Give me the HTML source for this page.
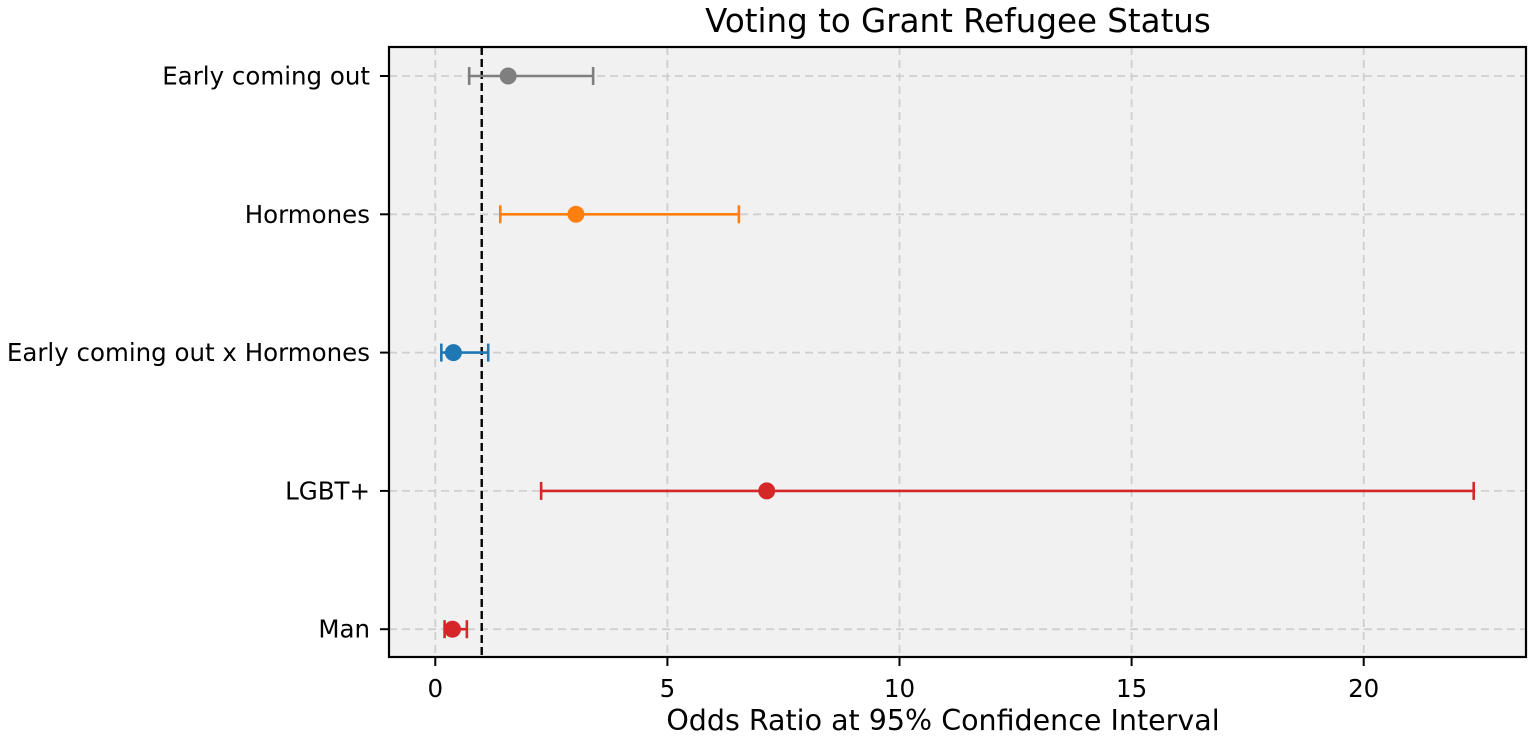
<!DOCTYPE html>
<html><head><meta charset="utf-8"><style>
html,body{margin:0;padding:0;background:#fff;}
svg{display:block;font-family:"DejaVu Sans","Liberation Sans",sans-serif;}
</style></head><body>
<svg id="chart" width="1536" height="740" viewBox="0 0 1536 740" xmlns="http://www.w3.org/2000/svg"></svg>
<script>
const categories = ["Early coming out","Hormones","Early coming out x Hormones","LGBT+","Man"];
const estimates = [1.57, 3.03, 0.39, 7.14, 0.37];
const ciLow = [0.73, 1.40, 0.13, 2.28, 0.20];
const ciHigh = [3.40, 6.54, 1.14, 22.37, 0.68];
const colors = ["#7f7f7f","#ff7f0e","#1f77b4","#d62728","#d62728"];
const xTicks = [0,5,10,15,20];
const refLine = 1;

const NS="http://www.w3.org/2000/svg";
const svg=document.getElementById('chart');
const L=389,R=1526,T=47,B=657;
const x0=435.3, ppu=46.42;
function xs(v){return x0+v*ppu;}
const rowTop=76, rowGap=138.3;
function ys(i){return rowTop+i*rowGap;}
function mk(tag,attrs,parent){const e=document.createElementNS(NS,tag);for(const k in attrs)e.setAttribute(k,attrs[k]);(parent||svg).appendChild(e);return e;}

const bg=mk('rect',{x:L,y:T,width:R-L,height:B-T,fill:'#f1f1f1'});



xTicks.forEach(t=>{
  const g=mk('line',{x1:xs(t),x2:xs(t),y1:T,y2:B,stroke:'#cfcfcf','stroke-width':1.8,'stroke-dasharray':'8,5'});
  
  
  const tk=mk('line',{x1:xs(t),x2:xs(t),y1:B,y2:B+9,stroke:'#000','stroke-width':2});
  
  
  const tl=mk('text',{x:xs(t),y:B+40,'text-anchor':'middle','font-size':24.5,fill:'#000'});
  tl.textContent=t;
  
  
});
categories.forEach((c,i)=>{
  const y=ys(i);
  const g=mk('line',{x1:L,x2:R,y1:y,y2:y,stroke:'#cfcfcf','stroke-width':1.8,'stroke-dasharray':'8,5'});
  
  
  const tk=mk('line',{x1:L-9,x2:L,y1:y,y2:y,stroke:'#000','stroke-width':2});
  
  
  const tl=mk('text',{x:L-19,y:y+8.5,'text-anchor':'end','font-size':24.5,fill:'#000'});
  tl.textContent=c;
  
  
});
const rl=mk('line',{x1:xs(refLine),x2:xs(refLine),y1:T,y2:B,stroke:'#000','stroke-width':2.4,'stroke-dasharray':'8,4'});



categories.forEach((c,i)=>{
  const y=ys(i),col=colors[i];
  const g=mk('g',{});
  
  
  mk('line',{x1:xs(ciLow[i]),x2:xs(ciHigh[i]),y1:y,y2:y,stroke:col,'stroke-width':2.6},g);
  mk('line',{x1:xs(ciLow[i]),x2:xs(ciLow[i]),y1:y-9,y2:y+9,stroke:col,'stroke-width':2.6},g);
  mk('line',{x1:xs(ciHigh[i]),x2:xs(ciHigh[i]),y1:y-9,y2:y+9,stroke:col,'stroke-width':2.6},g);
  const p=mk('circle',{cx:xs(estimates[i]),cy:y,r:8.5,fill:col},g);
  
  
});

const fr=mk('rect',{x:L,y:T,width:R-L,height:B-T,fill:'none',stroke:'#000','stroke-width':2.2});



const ti=mk('text',{x:958,y:32,'text-anchor':'middle','font-size':32.5,fill:'#000'});
ti.textContent='Voting to Grant Refugee Status';


const xl=mk('text',{x:943,y:730,'text-anchor':'middle','font-size':28.5,fill:'#000'});
xl.textContent='Odds Ratio at 95% Confidence Interval';


</script>
</body></html>
